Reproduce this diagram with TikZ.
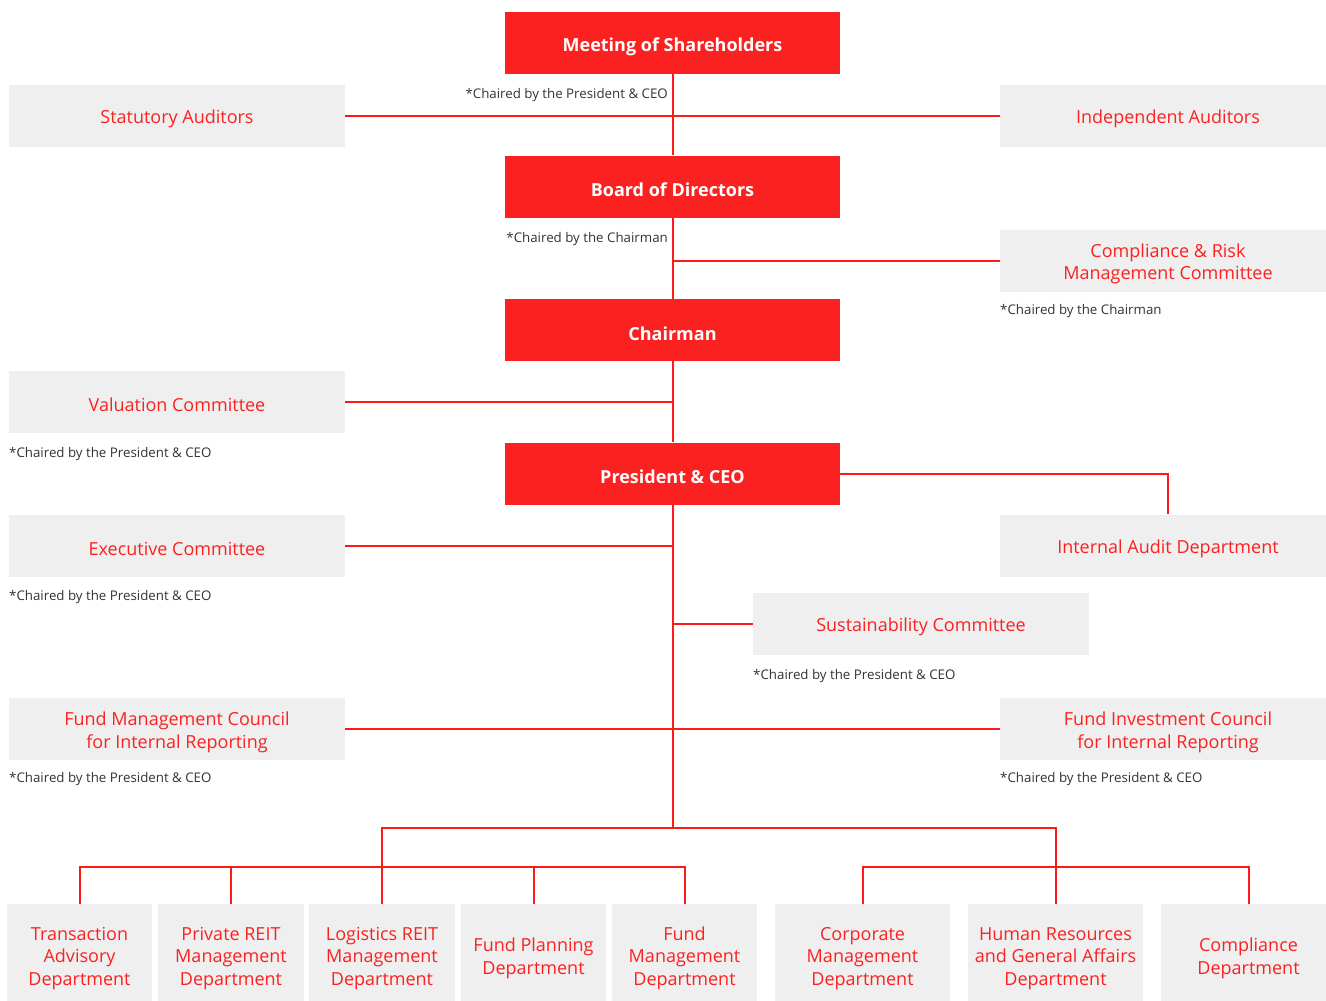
\documentclass[tikz,border=0pt]{standalone}
\usepackage{fontspec}
\setmainfont{Open Sans}
\usetikzlibrary{backgrounds}
\definecolor{brandred}{HTML}{FC2121}
\definecolor{boxgray}{HTML}{EFEFEF}
\definecolor{linered}{HTML}{FF1A1A}
\definecolor{notegray}{HTML}{333333}
% taller first line, so box labels sit a little below centre
\newcommand\boxlift{\rule{0pt}{20pt}}

\begin{document}
\begin{tikzpicture}[x=1pt,y=-1pt,
  headbox/.style={fill=brandred, text=white, font=\fontsize{18}{22}\selectfont\bfseries,
    minimum width=335, minimum height=62, inner sep=0,
    execute at begin node={\rule{0pt}{21pt}}},
  unitbox/.style={fill=boxgray, text=brandred, font=\fontsize{18}{22.5}\selectfont,
    align=center, inner sep=0, minimum height=62},
  deptbox/.style={fill=boxgray, text=brandred, font=\fontsize{18}{22.5}\selectfont,
    align=center, inner sep=0, minimum height=102},
  note/.style={text=notegray, font=\fontsize{13.3}{16}\selectfont, inner sep=0},
  link/.style={draw=linered, line width=2pt}]

\useasboundingbox (0,0) rectangle (1326,1001);

% governing bodies
\node[headbox] (ms) at (672.5,43)   {Meeting of Shareholders};
\node[headbox] (bd) at (672.5,186.5) {Board of Directors};
\node[headbox] (ch) at (672.5,330)  {Chairman};
\node[headbox] (pc) at (672.5,473.5) {President \& CEO};

% committees and auditors
\node[unitbox, minimum width=336] (sa)  at (177,115.5)  {\boxlift Statutory Auditors};
\node[unitbox, minimum width=336] (ia)  at (1168,115.5) {\boxlift Independent Auditors};
\node[unitbox, minimum width=336] (crm) at (1168,260.5) {\boxlift Compliance \& Risk\\Management Committee};
\node[unitbox, minimum width=336] (vc)  at (177,402)    {\boxlift Valuation Committee};
\node[unitbox, minimum width=336] (iad) at (1168,545.5) {\boxlift Internal Audit Department};
\node[unitbox, minimum width=336] (ec)  at (177,545.5)  {\boxlift Executive Committee};
\node[unitbox, minimum width=336] (sc)  at (921,624)    {\boxlift Sustainability Committee};
\node[unitbox, minimum width=336] (fmc) at (177,729)    {\boxlift Fund Management Council\\for Internal Reporting};
\node[unitbox, minimum width=336] (fic) at (1168,729)   {\boxlift Fund Investment Council\\for Internal Reporting};

% departments
\node[deptbox, minimum width=145] (d1) at (79.5,955)  {\boxlift Transaction\\Advisory\\Department};
\node[deptbox, minimum width=146] (d2) at (231,955)   {\boxlift Private REIT\\Management\\Department};
\node[deptbox, minimum width=146] (d3) at (382,955)   {\boxlift Logistics REIT\\Management\\Department};
\node[deptbox, minimum width=145] (d4) at (533.5,955) {\boxlift Fund Planning\\Department};
\node[deptbox, minimum width=145] (d5) at (684.5,955) {\boxlift Fund\\Management\\Department};
\node[deptbox, minimum width=175] (d6) at (862.5,955) {\boxlift Corporate\\Management\\Department};
\node[deptbox, minimum width=175] (d7) at (1055.5,955) {\boxlift Human Resources\\and General Affairs\\Department};
\node[deptbox, minimum width=175] (d8) at (1248.5,955) {\boxlift Compliance\\Department};

% chair notes
\node[note, anchor=east] (n1) at (668,95)  {*Chaired by the President \& CEO};
\node[note, anchor=east] (n2) at (668,239) {*Chaired by the Chairman};
\node[note, anchor=west] (n3) at (1000,311) {*Chaired by the Chairman};
\node[note, anchor=west] (n4) at (9,454)   {*Chaired by the President \& CEO};
\node[note, anchor=west] (n5) at (9,597)   {*Chaired by the President \& CEO};
\node[note, anchor=west] (n6) at (753,676) {*Chaired by the President \& CEO};
\node[note, anchor=west] (n7) at (9,779)   {*Chaired by the President \& CEO};
\node[note, anchor=west] (n8) at (1000,779) {*Chaired by the President \& CEO};

\coordinate (hub) at (672.5,828);
\coordinate (lbus) at (0,867);

\begin{scope}[on background layer]
  \fill[white] (0,0) rectangle (1326,1001);
  % main trunk
  \draw[link] (ms.south) -- (bd.north);
  \draw[link] (bd.south) -- (ch.north);
  \draw[link] (ch.south) -- (pc.north);
  \draw[link] (pc.south) -- (hub);
  % side branches
  \draw[link] (sa.east) -- (ia.west);
  \draw[link] (crm.west) -- (crm.west -| bd.south);
  \draw[link] (vc.east) -- (vc.east -| ch.south);
  \draw[link] (pc.east) -| (iad.north);
  \draw[link] (ec.east) -- (ec.east -| pc.south);
  \draw[link] (sc.west) -- (sc.west -| pc.south);
  \draw[link] (fmc.east) -- (fic.west);
  % department buses
  \draw[link] (d3.north) -- (d3.north |- hub) -- (d7.north |- hub) -- (d7.north);
  \draw[link] (d1.north) -- (d1.north |- lbus) -- (d5.north |- lbus) -- (d5.north);
  \draw[link] (d2.north) -- (d2.north |- lbus);
  \draw[link] (d4.north) -- (d4.north |- lbus);
  \draw[link] (d6.north) -- (d6.north |- lbus) -- (d8.north |- lbus) -- (d8.north);
\end{scope}
\end{tikzpicture}
\end{document}
